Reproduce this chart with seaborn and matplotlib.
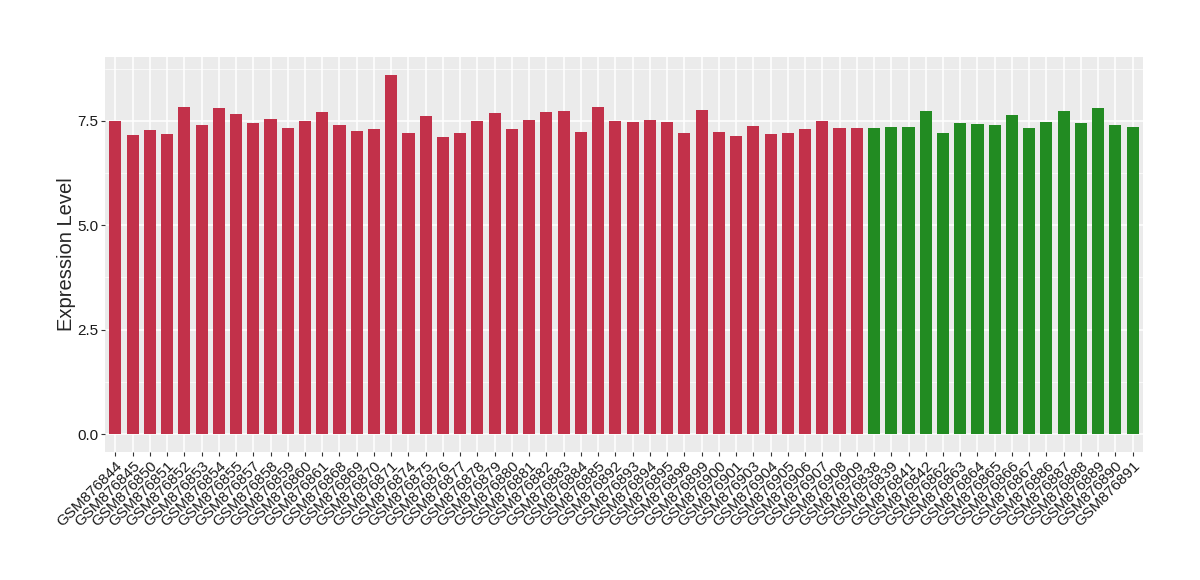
import numpy as np
import pandas as pd
import matplotlib
matplotlib.use('Agg')
import matplotlib.pyplot as plt
import seaborn as sns
from matplotlib.ticker import MultipleLocator

# samples (red group then green group)
red_samples = ['GSM876844', 'GSM876845', 'GSM876850', 'GSM876851', 'GSM876852', 'GSM876853',
               'GSM876854', 'GSM876855', 'GSM876857', 'GSM876858', 'GSM876859', 'GSM876860',
               'GSM876861', 'GSM876868', 'GSM876869', 'GSM876870', 'GSM876871', 'GSM876874',
               'GSM876875', 'GSM876876', 'GSM876877', 'GSM876878', 'GSM876879', 'GSM876880',
               'GSM876881', 'GSM876882', 'GSM876883', 'GSM876884', 'GSM876885', 'GSM876892',
               'GSM876893', 'GSM876894', 'GSM876895', 'GSM876898', 'GSM876899', 'GSM876900',
               'GSM876901', 'GSM876903', 'GSM876904', 'GSM876905', 'GSM876906', 'GSM876907',
               'GSM876908', 'GSM876909']
red_values = [7.50, 7.17, 7.28, 7.19, 7.84, 7.40, 7.81, 7.67, 7.45, 7.55, 7.33, 7.50,
              7.72, 7.40, 7.26, 7.30, 8.60, 7.21, 7.62, 7.12, 7.21, 7.50, 7.69, 7.30,
              7.52, 7.72, 7.74, 7.24, 7.84, 7.50, 7.48, 7.52, 7.48, 7.21, 7.77, 7.24,
              7.14, 7.38, 7.19, 7.21, 7.30, 7.50, 7.33, 7.33]

green_samples = ['GSM876838', 'GSM876839', 'GSM876841', 'GSM876842', 'GSM876862', 'GSM876863',
                 'GSM876864', 'GSM876865', 'GSM876866', 'GSM876867', 'GSM876886', 'GSM876887',
                 'GSM876888', 'GSM876889', 'GSM876890', 'GSM876891']
green_values = [7.33, 7.36, 7.36, 7.74, 7.21, 7.45, 7.43, 7.40, 7.64, 7.33, 7.48, 7.74,
                7.45, 7.81, 7.40, 7.36]

df = pd.DataFrame({
    'sample': red_samples + green_samples,
    'value': red_values + green_values,
    'group': ['red'] * len(red_samples) + ['green'] * len(green_samples),
})

sns.set_style('darkgrid', {'axes.facecolor': '#EBEBEB', 'grid.color': 'white'})
plt.rcParams['font.family'] = ['Liberation Sans', 'DejaVu Sans']

fig = plt.figure(figsize=(12, 5.8), dpi=100)
ax = fig.add_axes([105 / 1200, 1 - 452 / 580, (1143 - 105) / 1200, (452 - 57) / 580])

sns.barplot(data=df, x='sample', y='value', hue='group',
            palette={'red': '#C2314A', 'green': '#228B22'},
            width=0.7, dodge=False, legend=False, saturation=1,
            linewidth=0, edgecolor='none', ax=ax)

ax.set_xlim(-0.6, len(df) - 0.4)
ax.set_ylim(-0.43, 9.03)
ax.yaxis.set_major_locator(MultipleLocator(2.5))
ax.yaxis.set_minor_locator(MultipleLocator(1.25))
ax.grid(which='major', color='white', linewidth=1.1)
ax.grid(which='minor', axis='y', color='white', linewidth=0.5)
ax.set_axisbelow(True)
for s in ax.spines.values():
    s.set_visible(False)

ax.set_yticks([0, 2.5, 5.0, 7.5])
ax.set_yticklabels(['0.0', '2.5', '5.0', '7.5'])
ax.tick_params(axis='both', which='major', bottom=True, left=True, length=3,
               width=0.8, color='#333333', labelsize=11, labelcolor='#1A1A1A', pad=2)
ax.tick_params(axis='y', which='minor', length=0)
plt.setp(ax.get_xticklabels(), rotation=45, ha='right', rotation_mode='anchor')

ax.set_xlabel('')
ax.set_ylabel('Expression Level', fontsize=14.5, labelpad=1)

fig.savefig('out.png', dpi=100)
